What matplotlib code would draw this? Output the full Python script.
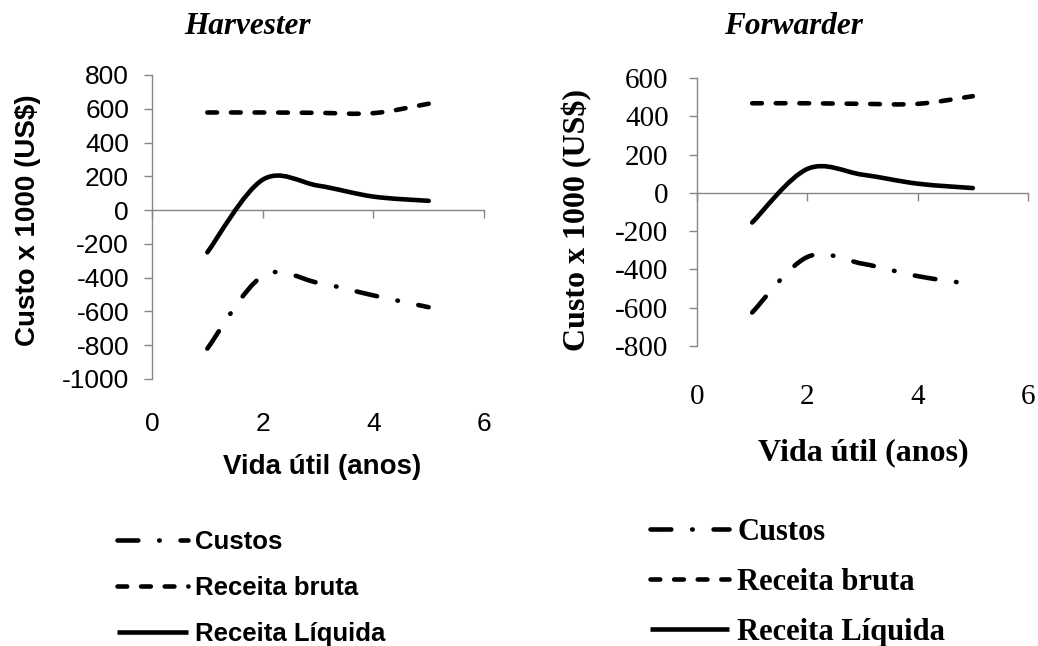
import numpy as np
import matplotlib
matplotlib.use("Agg")
import matplotlib.pyplot as plt
from matplotlib.path import Path
from matplotlib.patches import PathPatch
from matplotlib.lines import Line2D

plt.rcParams['lines.scale_dashes'] = False
plt.rcParams['axes.unicode_minus'] = False

# vida útil (anos)
anos = [1, 2, 3, 4, 5]

# Harvester, custo x 1000 (US$)
harv_custos = [-820, -390, -430, -505, -575]
harv_bruta = [578, 578, 576, 574, 630]
harv_liquida = [-250, 180, 145, 80, 55]

# Forwarder, custo x 1000 (US$)
forw_custos = [-625, -335, -370, -435, -478]
forw_bruta = [468, 468, 465, 465, 505]
forw_liquida = [-155, 125, 95, 48, 25]

series_names = ['Custos', 'Receita bruta', 'Receita Líquida']
xticks = [0, 2, 4, 6]
harv_yticks = list(range(-1000, 801, 200))
forw_yticks = list(range(-800, 601, 200))

GRAY = '#868686'
LW = 3.3
styles = {
    'Custos': (0, (15, 15, 0.4, 15)),
    'Receita bruta': (0, (7, 10)),
    'Receita Líquida': '-',
}


def smooth_path(x, y):
    """Bezier path through the points, Catmull-Rom style (like a smoothed line)."""
    pts = np.column_stack([x, y]).astype(float)
    n = len(pts)
    verts = [pts[0]]
    codes = [Path.MOVETO]
    for i in range(n - 1):
        p0 = pts[max(i - 1, 0)]
        p1 = pts[i]
        p2 = pts[i + 1]
        p3 = pts[min(i + 2, n - 1)]
        verts += [p1 + (p2 - p0) / 6, p2 - (p3 - p1) / 6, p2]
        codes += [Path.CURVE4] * 3
    return Path(verts, codes)


def draw_panel(ax, series, yticks, font, tick_size, xpad, ypad):
    ax.set_xlim(0, 6)
    ax.set_ylim(yticks[0], yticks[-1])
    for name, vals in zip(series_names, series):
        patch = PathPatch(smooth_path(anos, vals), fill=False, edgecolor='black',
                          lw=LW, linestyle=styles[name], capstyle='round',
                          joinstyle='round', zorder=3)
        ax.add_patch(patch)

    for s in ['top', 'right', 'bottom']:
        ax.spines[s].set_visible(False)
    ax.spines['left'].set_color(GRAY)
    ax.spines['left'].set_linewidth(1.0)

    ax.set_xticks(xticks)
    ax.set_yticks(yticks)
    ax.tick_params(axis='x', length=0, pad=xpad)
    ax.tick_params(axis='y', direction='out', length=5.5, width=1.0,
                   color=GRAY, pad=ypad)
    for lab in ax.get_xticklabels() + ax.get_yticklabels():
        lab.set_fontfamily(font)
        lab.set_fontsize(tick_size)

    # horizontal axis crossing at zero
    zero = ax.secondary_xaxis(0, transform=ax.transData)
    zero.set_xticks(xticks)
    zero.tick_params(axis='x', direction='out', length=5.5, width=1.0,
                     color=GRAY, labelbottom=False)
    zero.spines['bottom'].set_color(GRAY)
    zero.spines['bottom'].set_linewidth(1.0)


fig = plt.figure(figsize=(10.38, 6.46), dpi=100)

ax1 = fig.add_axes([152 / 1038, 1 - 379 / 646, 332 / 1038, 304 / 646])
ax2 = fig.add_axes([697 / 1038, 1 - 346 / 646, 331 / 1038, 268 / 646])

draw_panel(ax1, [harv_custos, harv_bruta, harv_liquida], harv_yticks,
           'Liberation Sans', 19, 24, 11)
draw_panel(ax2, [forw_custos, forw_bruta, forw_liquida], forw_yticks,
           'Liberation Serif', 21, 27, 15)

# titles
fig.text(247 / 1038, 1 - 27 / 646, 'Harvester', family='Liberation Serif',
         weight='bold', style='italic', size=22.5, ha='center', va='center')
fig.text(793 / 1038, 1 - 27 / 646, 'Forwarder', family='Liberation Serif',
         weight='bold', style='italic', size=22.5, ha='center', va='center')

# axis titles
fig.text(28 / 1038, 1 - 220 / 646, 'Custo x 1000 (US$)', family='Liberation Sans',
         weight='bold', size=20, rotation=90, ha='center', va='center')
fig.text(322 / 1038, 1 - 467 / 646, 'Vida útil (anos)', family='Liberation Sans',
         weight='bold', size=20, ha='center', va='center')
fig.text(577 / 1038, 1 - 220 / 646, 'Custo x 1000 (US$)', family='Liberation Serif',
         weight='bold', size=23, rotation=90, ha='center', va='center')
fig.text(863 / 1038, 1 - 453 / 646, 'Vida útil (anos)', family='Liberation Serif',
         weight='bold', size=23, ha='center', va='center')

# legends
handles = [Line2D([], [], color='black', lw=LW, linestyle=styles[n],
                  dash_capstyle='round', solid_capstyle='butt') for n in series_names]

leg1 = fig.legend(handles, series_names, loc='upper left',
                  bbox_to_anchor=(117 / 1038, 1 - 530 / 646), frameon=False,
                  borderpad=0, borderaxespad=0, handlelength=2.75,
                  handletextpad=0.3, labelspacing=0.85,
                  prop={'family': 'Liberation Sans', 'weight': 'bold', 'size': 18.5})
leg2 = fig.legend(handles, series_names, loc='upper left',
                  bbox_to_anchor=(650 / 1038, 1 - 518 / 646), frameon=False,
                  borderpad=0, borderaxespad=0, handlelength=2.6,
                  handletextpad=0.25, labelspacing=0.68,
                  prop={'family': 'Liberation Serif', 'weight': 'bold', 'size': 22})

fig.savefig('out.png', dpi=100)
